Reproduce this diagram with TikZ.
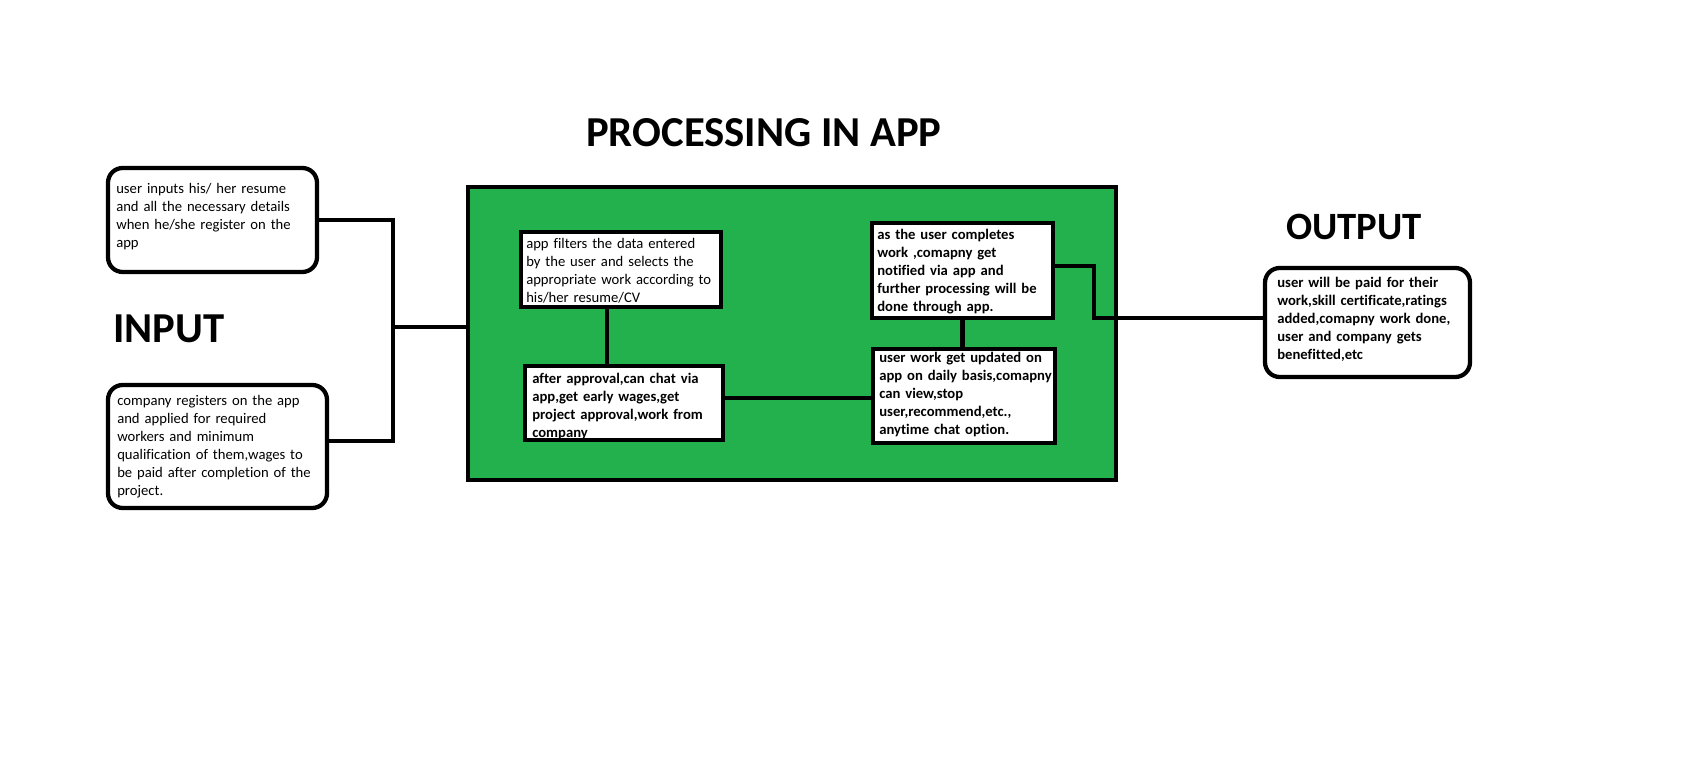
\documentclass[tikz,border=0pt]{standalone}
\usepackage{fontspec}
\setmainfont{Carlito}[Ligatures=CommonOff]
\definecolor{pgreen}{RGB}{34,177,76}
\tikzset{
  lw/.style={line width=3.2pt},
  rbox/.style={draw, lw, fill=white, rounded corners=11pt, inner sep=0pt},
  sbox/.style={draw, lw, fill=white, rectangle, inner sep=0pt},
  gbox/.style={draw, lw, fill=pgreen, rectangle, inner sep=0pt},
  txt/.style={anchor=base west, inner sep=0pt, text width=#1, align=left, font=\fontsize{11}{13.4}\selectfont},
  btxt/.style={txt=#1, font=\fontsize{11}{13.4}\selectfont\bfseries},
  title/.style={anchor=base west, inner sep=0pt, font=\fontsize{#1}{#1}\selectfont\bfseries},
  conn/.style={lw}
}
\begin{document}
\begin{tikzpicture}[x=0.75pt,y=-0.75pt]
\useasboundingbox[fill=white] (0,0) rectangle (1689,766);

% titles
\node[title=32] (tin) at (113,343) {INPUT};
\node[title=32] (tproc) at (586,147) {PROCESSING IN APP};
\node[title=29] (tout) at (1286,240) {OUTPUT};

% input boxes
\node[rbox, minimum width=156.75pt, minimum height=78pt] (b1) at (212.5,220) {};
\node[txt=150pt] (t1) at (116,194) {user inputs his/ her resume\\and all the necessary details\\when he/she register on the\\app};
\node[rbox, minimum width=164.25pt, minimum height=92.25pt] (b2) at (217.5,446.5) {};
\node[txt=160pt] (t2) at (117,406) {company registers on the app\\and applied for required\\workers and minimum\\qualification of them,wages to\\be paid after completion of the\\project.};

% green processing box
\node[gbox, minimum width=486pt, minimum height=219.75pt] (green) at (792,333.5) {};

\node[sbox, minimum width=150pt, minimum height=56.25pt] (A) at (621,269.5) {};
\node[txt=145pt] (tA) at (526,249) {app filters the data entered\\by the user and selects the\\appropriate work according to\\his/her resume/CV};
\node[sbox, minimum width=148.5pt, minimum height=55.5pt] (B) at (624,403) {};
\node[btxt=140pt] (tB) at (532,384) {after approval,can chat via\\app,get early wages,get\\project approval,work from\\company};
\node[sbox, minimum width=135.75pt, minimum height=71.25pt] (C) at (962.5,270.5) {};
\node[btxt=130pt] (tC) at (877,240) {as the user completes\\work ,comapny get\\notified via app and\\further processing will be\\done through app.};
\node[sbox, minimum width=136.5pt, minimum height=70.5pt] (D) at (964,396) {};
\node[btxt=132pt] (tD) at (879,363) {user work get updated on\\app on daily basis,comapny\\can view,stop\\user,recommend,etc.,\\anytime chat option.};

% output box
\node[rbox, minimum width=153.75pt, minimum height=81.75pt] (out) at (1367.5,322.5) {};
\node[btxt=150pt] (tO) at (1277,288) {user will be paid for their\\work,skill certificate,ratings\\added,comapny work done,\\user and company gets\\benefitted,etc};

% connector points
\coordinate (j1) at (393,220);
\coordinate (j2) at (393,441);
\coordinate (jm) at (393,327);
\coordinate (cab) at (607,0);
\coordinate (cbd) at (0,398);
\coordinate (c1) at (1094,266);
\coordinate (c2) at (1094,318);

% connectors
\draw[conn] (b1.east) -- (j1) -- (j2) -- (j2 -| b2.east);
\draw[conn] (jm) -- (jm -| green.west);
\draw[conn] (A.south -| cab) -- (B.north -| cab);
\draw[conn] (B.east |- cbd) -- (D.west |- cbd);
\draw[conn] (C.south) -- (C.south |- D.north);
\draw[conn] (C.east |- c1) -- (c1) -- (c2) -- (c2 -| out.west);
\end{tikzpicture}
\end{document}
